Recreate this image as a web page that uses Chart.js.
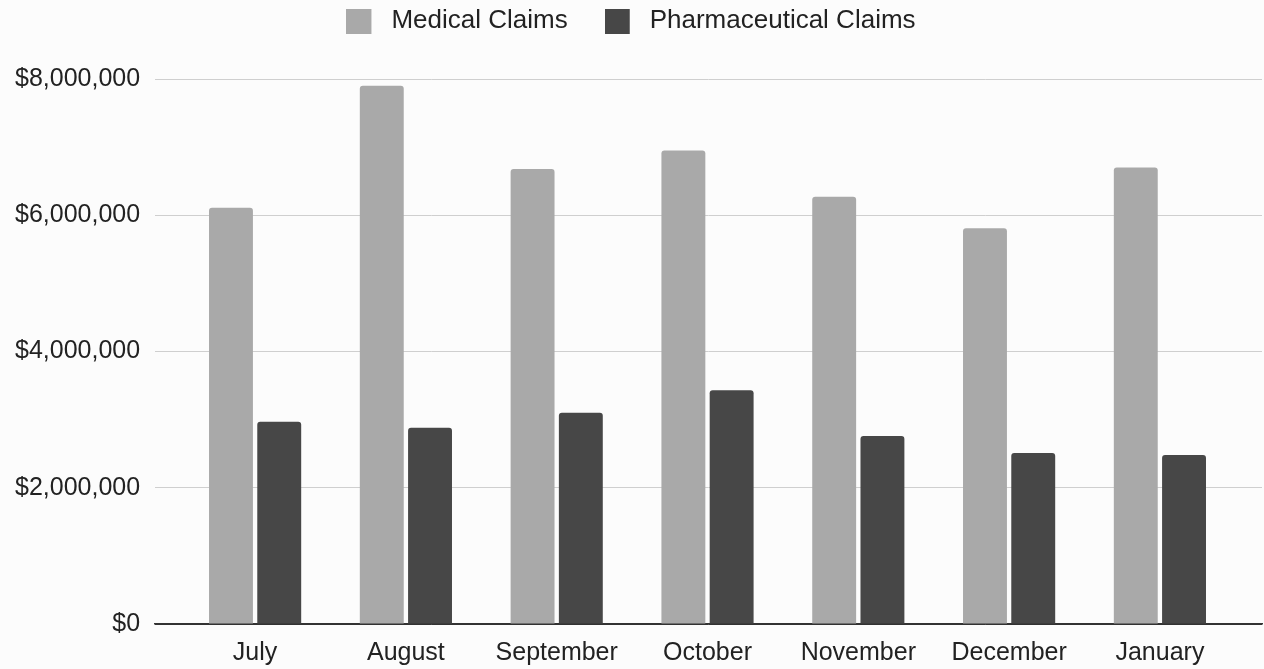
<!DOCTYPE html>
<html>
<head>
<meta charset="utf-8">
<script src="https://cdn.jsdelivr.net/npm/chart.js@4.4.0/dist/chart.umd.min.js"></script>
<style>
html,body{margin:0;padding:0;background:#fcfcfc;}
#wrap{width:1264px;height:669px;position:relative;}
</style>
</head>
<body>
<div id="wrap"><canvas id="c" width="1264" height="669"></canvas></div>
<script>
const categories = ["July","August","September","October","November","December","January"];
const medicalClaims = [6110000,7900000,6680000,6950000,6270000,5810000,6700000];
const pharmaClaims = [2970000,2880000,3100000,3430000,2760000,2510000,2480000];
const yTicks = [0,2000000,4000000,6000000,8000000];
const seriesNames = ['Medical Claims','Pharmaceutical Claims'];
const seriesColors = ['#a9a9a9','#474747'];

const FONT = 'Liberation Sans, Arial, sans-serif';
const fmt = v => '$' + Math.round(v).toLocaleString('en-US');

function legendSwatch(color){
  const cv = document.createElement('canvas');
  cv.width = 32; cv.height = 25;
  const g = cv.getContext('2d');
  g.fillStyle = color;
  g.fillRect(0,0,25,25);
  return cv;
}
const swatches = seriesColors.map(legendSwatch);

const legendSpacer = {
  id:'legendSpacer',
  beforeInit(chart){
    const lg = chart.legend;
    const orig = lg.fit;
    lg.fit = function(){ orig.call(this); this.height += 35; };
  }
};

new Chart(document.getElementById('c'), {
  type: 'bar',
  data: {
    datasets: [
      {label:seriesNames[0], data: medicalClaims.map((v,i)=>({x:i,y:v})), backgroundColor:seriesColors[0], borderRadius:{topLeft:3,topRight:3}, borderSkipped:'start'},
      {label:seriesNames[1], data: pharmaClaims.map((v,i)=>({x:i,y:v})), backgroundColor:seriesColors[1], borderRadius:{topLeft:3,topRight:3}, borderSkipped:'start'}
    ]
  },
  plugins:[legendSpacer],
  options: {
    responsive:false,
    animation:false,
    categoryPercentage:0.64,
    barPercentage:0.91,
    layout:{padding:{left:0,right:2,top:-29,bottom:-13}},
    plugins:{
      legend:{
        position:'top',
        labels:{
          font:{family:FONT,size:26},color:'#222',
          usePointStyle:true,pointStyleWidth:32,boxHeight:25,padding:37,
          generateLabels:(chart)=>{
            const items = Chart.defaults.plugins.legend.labels.generateLabels(chart);
            items.forEach((it,i)=>{ it.pointStyle = swatches[i]; });
            return items;
          }
        },
      },
      tooltip:{enabled:false}
    },
    scales:{
      x:{
        type:'linear',
        min:-0.663,max:6.677,
        offset:false,
        afterBuildTicks: s => { s.ticks = categories.map((_,i)=>({value:i})); },
        ticks:{callback:(v)=>categories[v] ?? '', font:{family:FONT,size:25},color:'#222',padding:14,maxRotation:0,autoSkip:false},
        grid:{display:false,drawTicks:false},
        border:{display:true,color:'#333',width:1.5}
      },
      y:{
        min:0,max:8000000,
        afterBuildTicks: s => { s.ticks = yTicks.map(v=>({value:v})); },
        ticks:{callback:v=>fmt(v), font:{family:FONT,size:25},color:'#222',padding:15},
        grid:{color:ctx=> ctx.tick && ctx.tick.value===0 ? '#333' : '#cfcfcf', drawTicks:false, lineWidth:1},
        border:{display:false}
      }
    }
  }
});
</script>
</body>
</html>
